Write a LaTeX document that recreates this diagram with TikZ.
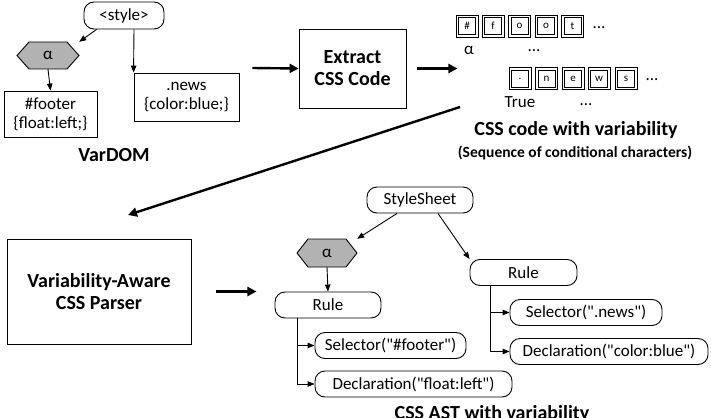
\documentclass[tikz,border=0pt]{standalone}
\usepackage{fontspec}
\setmainfont{Carlito}[Ligatures=TeXOff]
\usetikzlibrary{shapes.geometric,arrows.meta,calc}
\begin{document}
\begin{tikzpicture}[x=1pt,y=-1pt,
  every node/.style={font=\fontsize{17}{19}\selectfont, inner sep=0pt},
  rbox/.style={draw, rounded corners=10pt, line width=0.9pt, minimum height=26pt, align=center},
  sbox/.style={draw, line width=0.9pt, align=center},
  cbox/.style={draw, line width=0.8pt, minimum width=22pt, minimum height=22pt, font=\fontsize{11}{12}\selectfont,
     append after command={\pgfextra{\draw[line width=0.6pt] ($(\tikzlastnode.north west)+(3,3)$) rectangle ($(\tikzlastnode.south east)+(-3,-3)$);}}},
  thin/.style={-{Triangle[length=7pt,width=5.5pt]}, line width=0.9pt},
  thick/.style={-{Triangle[length=9pt,width=9pt]}, line width=2.4pt},
  bold/.style={font=\fontsize{20}{22}\selectfont\bfseries},
  hexfill/.style={fill=gray!60, draw, line width=0.9pt},
]
\useasboundingbox (0,0) rectangle (711,417);
% top left VarDOM
\node[rbox, minimum width=80pt, minimum height=27pt] (style) at (124,15.5) {<style>};
\node[opacity=0, minimum width=62pt, minimum height=27pt] (hexA) at (48,55.5) {};
\draw[hexfill] (17,55.5) -- (29,42) -- (67,42) -- (79,55.5) -- (67,69) -- (29,69) -- cycle;
\node at (48,55.5) {α};
\node[sbox, minimum width=93pt, minimum height=46pt] (footer) at (50.5,114) {\#footer\\\{float:left;\}};
\node[sbox, minimum width=105pt, minimum height=48pt] (news) at (186.5,97) {.news\\\{color:blue;\}};
\node[bold] (vardom) at (114,155) {VarDOM};
\draw[thin] (style.south west) ++(13,0) -- (hexA.north east);
\draw[thin] (style.south) ++(10,0) -- (news.north west) ;
\draw[thin] (hexA.south) -- (footer.north);
% Extract
\node[sbox, minimum width=107pt, minimum height=79pt, bold] (extract) at (352.5,68.5) {Extract\\CSS Code};
\draw[thick] (news.east) ++(13,-29) -- (extract.west);
\draw[thick] (extract.east) ++(11,0) -- ++(40,0) coordinate (a2e);
% char boxes
\foreach \c/\x [count=\i] in {\#/467,f/493,o/519.5,o/546,t/572.5}{\node[cbox] (c\i) at (\x,26) {\c};}
\node (d1) at (599,28) {...};
\node (alpha1) at (469,50) {α};
\node (d2) at (534,51) {...};
\foreach \c/\x [count=\i] in {./520,n/546.5,e/573,w/599,s/626}{\node[cbox] (n\i) at (\x,78.5) {\c};}
\node (d3) at (652,80) {...};
\node (true) at (520,102) {True};
\node (d4) at (586,105) {...};
\node[bold] (csscode) at (576,130) {CSS code with variability};
\node[font=\fontsize{15.5}{17}\selectfont\bfseries] (seq) at (575,153) {(Sequence of conditional characters)};
% long arrow
\coordinate (la) at (460,107);
\coordinate (lb) at (128,215);
\draw[thick] (la) -- (lb);
% parser
\node[sbox, minimum width=184pt, minimum height=105pt, bold] (parser) at (99,291.5) {Variability-Aware\\CSS Parser};
\draw[thick] (parser.east) ++(25,0) -- ++(40,0) coordinate (a3e);
% AST
\node[rbox, minimum width=106pt] (sheet) at (420,200) {StyleSheet};
\node[opacity=0, minimum width=60pt, minimum height=28pt] (hexB) at (327,253) {};
\draw[hexfill] (297,253) -- (308,239) -- (346,239) -- (357,253) -- (346,267) -- (308,267) -- cycle;
\node at (327,253) {α};
\node[rbox, minimum width=106pt] (rule1) at (328,305) {Rule};
\node[rbox, minimum width=151pt] (sel1) at (390.5,345.5) {Selector("\#footer")};
\node[rbox, minimum width=197pt] (dec1) at (413.5,384) {Declaration("float:left")};
\node[rbox, minimum width=107pt] (rule2) at (523.5,272.5) {Rule};
\node[rbox, minimum width=152pt] (sel2) at (586,312.5) {Selector(".news")};
\node[rbox, minimum width=198pt] (dec2) at (609,351.5) {Declaration("color:blue")};
\draw[thin] (sheet.south) ++(-23,0) -- (hexB.north east);
\draw[thin] (sheet.south) ++(18,0) -- (rule2.north west);
\draw[thin] (hexB.south) -- (rule1.north);
\draw[thin] (rule1.south) ++(-31,0) |- (sel1.west);
\draw[thin] (rule1.south) ++(-31,0) |- (dec1.west);
\draw[thin] (rule2.south) ++(-33.5,0) |- (sel2.west);
\draw[thin] (rule2.south) ++(-33.5,0) |- (dec2.west);
\node[bold, anchor=base] (ast) at (492,419) {CSS AST with variability};
\end{tikzpicture}
\end{document}
